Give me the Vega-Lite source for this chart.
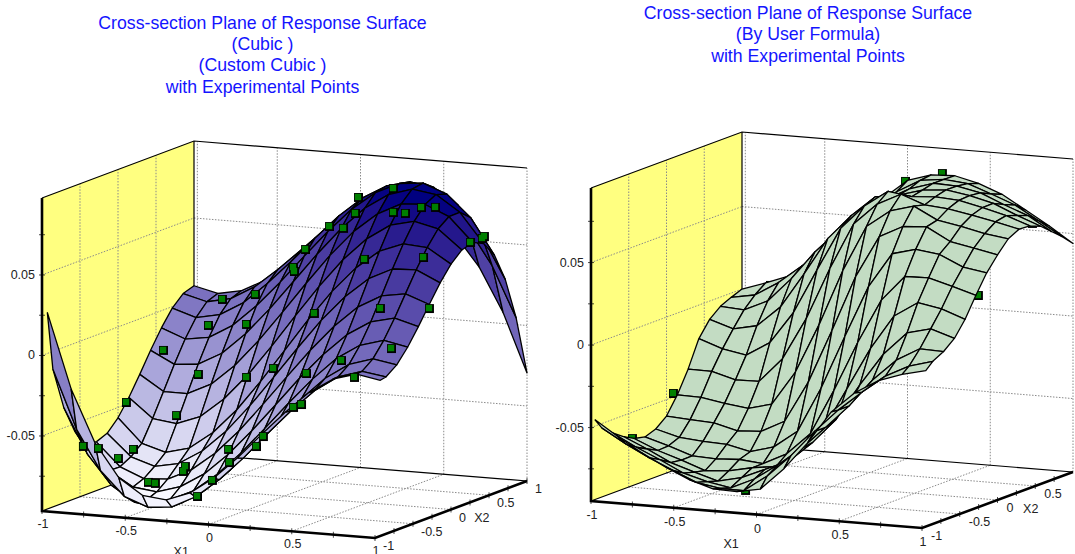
{"$schema":"https://vega.github.io/schema/vega-lite/v6.json","padding":{"left":0,"top":5,"right":0,"bottom":0},"background":"white","bounds":"flush","spacing":0,"config":{"view":{"stroke":null},"concat":{"spacing":0},"title":{"font":"Liberation Sans","fontSize":17.7,"fontWeight":"normal","color":"#1414ff","lineHeight":21.3},"text":{"font":"Liberation Sans"}},
"datasets":{
"leftSurface":[
{"X1":-1,"X2":1,"Z":0.0079},{"X1":-0.857,"X2":1,"Z":0.0043},{"X1":-0.714,"X2":1,"Z":0.0073},{"X1":-0.571,"X2":1,"Z":0.015},{"X1":-0.429,"X2":1,"Z":0.0259},{"X1":-0.286,"X2":1,"Z":0.0378},{"X1":-0.143,"X2":1,"Z":0.0494},{"X1":0,"X2":1,"Z":0.0591},{"X1":0.143,"X2":1,"Z":0.0654},{"X1":0.286,"X2":1,"Z":0.0671},{"X1":0.429,"X2":1,"Z":0.0629},{"X1":0.571,"X2":1,"Z":0.0523},{"X1":0.714,"X2":1,"Z":0.0337},{"X1":0.857,"X2":1,"Z":0.0067},{"X1":1,"X2":1,"Z":-0.0295},
{"X1":-1,"X2":0.857,"Z":0.0056},{"X1":-0.857,"X2":0.857,"Z":0.0017},{"X1":-0.714,"X2":0.857,"Z":0.0048},{"X1":-0.571,"X2":0.857,"Z":0.0133},{"X1":-0.429,"X2":0.857,"Z":0.0255},{"X1":-0.286,"X2":0.857,"Z":0.0391},{"X1":-0.143,"X2":0.857,"Z":0.053},{"X1":0,"X2":0.857,"Z":0.0655},{"X1":0.143,"X2":0.857,"Z":0.0751},{"X1":0.286,"X2":0.857,"Z":0.0805},{"X1":0.429,"X2":0.857,"Z":0.0803},{"X1":0.571,"X2":0.857,"Z":0.0742},{"X1":0.714,"X2":0.857,"Z":0.0603},{"X1":0.857,"X2":0.857,"Z":0.0383},{"X1":1,"X2":0.857,"Z":0.0073},
{"X1":-1,"X2":0.714,"Z":-0.0009},{"X1":-0.857,"X2":0.714,"Z":-0.0056},{"X1":-0.714,"X2":0.714,"Z":-0.0026},{"X1":-0.571,"X2":0.714,"Z":0.0061},{"X1":-0.429,"X2":0.714,"Z":0.0191},{"X1":-0.286,"X2":0.714,"Z":0.034},{"X1":-0.143,"X2":0.714,"Z":0.0497},{"X1":0,"X2":0.714,"Z":0.0647},{"X1":0.143,"X2":0.714,"Z":0.0771},{"X1":0.286,"X2":0.714,"Z":0.0857},{"X1":0.429,"X2":0.714,"Z":0.0894},{"X1":0.571,"X2":0.714,"Z":0.0872},{"X1":0.714,"X2":0.714,"Z":0.0776},{"X1":0.857,"X2":0.714,"Z":0.0602},{"X1":1,"X2":0.714,"Z":0.0337},
{"X1":-1,"X2":0.571,"Z":-0.0107},{"X1":-0.857,"X2":0.571,"Z":-0.0164},{"X1":-0.714,"X2":0.571,"Z":-0.0142},{"X1":-0.571,"X2":0.571,"Z":-0.0055},{"X1":-0.429,"X2":0.571,"Z":0.0079},{"X1":-0.286,"X2":0.571,"Z":0.0237},{"X1":-0.143,"X2":0.571,"Z":0.0409},{"X1":0,"X2":0.571,"Z":0.0576},{"X1":0.143,"X2":0.571,"Z":0.0726},{"X1":0.286,"X2":0.571,"Z":0.0841},{"X1":0.429,"X2":0.571,"Z":0.091},{"X1":0.571,"X2":0.571,"Z":0.0924},{"X1":0.714,"X2":0.571,"Z":0.0868},{"X1":0.857,"X2":0.571,"Z":0.0734},{"X1":1,"X2":0.571,"Z":0.0513},
{"X1":-1,"X2":0.429,"Z":-0.0221},{"X1":-0.857,"X2":0.429,"Z":-0.0296},{"X1":-0.714,"X2":0.429,"Z":-0.0283},{"X1":-0.571,"X2":0.429,"Z":-0.0203},{"X1":-0.429,"X2":0.429,"Z":-0.007},{"X1":-0.286,"X2":0.429,"Z":0.0095},{"X1":-0.143,"X2":0.429,"Z":0.0277},{"X1":0,"X2":0.429,"Z":0.046},{"X1":0.143,"X2":0.429,"Z":0.0628},{"X1":0.286,"X2":0.429,"Z":0.0769},{"X1":0.429,"X2":0.429,"Z":0.0866},{"X1":0.571,"X2":0.429,"Z":0.0912},{"X1":0.714,"X2":0.429,"Z":0.089},{"X1":0.857,"X2":0.429,"Z":0.0792},{"X1":1,"X2":0.429,"Z":0.061},
{"X1":-1,"X2":0.286,"Z":-0.0345},{"X1":-0.857,"X2":0.286,"Z":-0.044},{"X1":-0.714,"X2":0.286,"Z":-0.0441},{"X1":-0.571,"X2":0.286,"Z":-0.037},{"X1":-0.429,"X2":0.286,"Z":-0.0242},{"X1":-0.286,"X2":0.286,"Z":-0.0076},{"X1":-0.143,"X2":0.286,"Z":0.0112},{"X1":0,"X2":0.286,"Z":0.0305},{"X1":0.143,"X2":0.286,"Z":0.049},{"X1":0.286,"X2":0.286,"Z":0.0651},{"X1":0.429,"X2":0.286,"Z":0.0772},{"X1":0.571,"X2":0.286,"Z":0.0846},{"X1":0.714,"X2":0.286,"Z":0.0854},{"X1":0.857,"X2":0.286,"Z":0.079},{"X1":1,"X2":0.286,"Z":0.0642},
{"X1":-1,"X2":0.143,"Z":-0.0463},{"X1":-0.857,"X2":0.143,"Z":-0.0582},{"X1":-0.714,"X2":0.143,"Z":-0.0602},{"X1":-0.571,"X2":0.143,"Z":-0.0546},{"X1":-0.429,"X2":0.143,"Z":-0.0425},{"X1":-0.286,"X2":0.143,"Z":-0.0264},{"X1":-0.143,"X2":0.143,"Z":-0.0074},{"X1":0,"X2":0.143,"Z":0.0127},{"X1":0.143,"X2":0.143,"Z":0.0323},{"X1":0.286,"X2":0.143,"Z":0.05},{"X1":0.429,"X2":0.143,"Z":0.0642},{"X1":0.571,"X2":0.143,"Z":0.0739},{"X1":0.714,"X2":0.143,"Z":0.0774},{"X1":0.857,"X2":0.143,"Z":0.0739},{"X1":1,"X2":0.143,"Z":0.0621},
{"X1":-1,"X2":0,"Z":-0.0564},{"X1":-0.857,"X2":0,"Z":-0.0711},{"X1":-0.714,"X2":0,"Z":-0.0755},{"X1":-0.571,"X2":0,"Z":-0.0716},{"X1":-0.429,"X2":0,"Z":-0.0608},{"X1":-0.286,"X2":0,"Z":-0.0454},{"X1":-0.143,"X2":0,"Z":-0.0266},{"X1":0,"X2":0,"Z":-0.0063},{"X1":0.143,"X2":0,"Z":0.0141},{"X1":0.286,"X2":0,"Z":0.0329},{"X1":0.429,"X2":0,"Z":0.0487},{"X1":0.571,"X2":0,"Z":0.0603},{"X1":0.714,"X2":0,"Z":0.066},{"X1":0.857,"X2":0,"Z":0.0649},{"X1":1,"X2":0,"Z":0.0558},
{"X1":-1,"X2":-0.143,"Z":-0.0635},{"X1":-0.857,"X2":-0.143,"Z":-0.0769},{"X1":-0.714,"X2":-0.143,"Z":-0.0816},{"X1":-0.571,"X2":-0.143,"Z":-0.0787},{"X1":-0.429,"X2":-0.143,"Z":-0.0697},{"X1":-0.286,"X2":-0.143,"Z":-0.0563},{"X1":-0.143,"X2":-0.143,"Z":-0.0393},{"X1":0,"X2":-0.143,"Z":-0.0204},{"X1":0.143,"X2":-0.143,"Z":-0.0011},{"X1":0.286,"X2":-0.143,"Z":0.0174},{"X1":0.429,"X2":-0.143,"Z":0.0333},{"X1":0.571,"X2":-0.143,"Z":0.0457},{"X1":0.714,"X2":-0.143,"Z":0.0529},{"X1":0.857,"X2":-0.143,"Z":0.0536},{"X1":1,"X2":-0.143,"Z":0.0467},
{"X1":-1,"X2":-0.286,"Z":-0.0663},{"X1":-0.857,"X2":-0.286,"Z":-0.0806},{"X1":-0.714,"X2":-0.286,"Z":-0.0867},{"X1":-0.571,"X2":-0.286,"Z":-0.0858},{"X1":-0.429,"X2":-0.286,"Z":-0.0789},{"X1":-0.286,"X2":-0.286,"Z":-0.0674},{"X1":-0.143,"X2":-0.286,"Z":-0.0524},{"X1":0,"X2":-0.286,"Z":-0.0348},{"X1":0.143,"X2":-0.286,"Z":-0.0165},{"X1":0.286,"X2":-0.286,"Z":0.0014},{"X1":0.429,"X2":-0.286,"Z":0.0175},{"X1":0.571,"X2":-0.286,"Z":0.0306},{"X1":0.714,"X2":-0.286,"Z":0.0388},{"X1":0.857,"X2":-0.286,"Z":0.0412},{"X1":1,"X2":-0.286,"Z":0.0358},
{"X1":-1,"X2":-0.429,"Z":-0.0637},{"X1":-0.857,"X2":-0.429,"Z":-0.0805},{"X1":-0.714,"X2":-0.429,"Z":-0.0894},{"X1":-0.571,"X2":-0.429,"Z":-0.0912},{"X1":-0.429,"X2":-0.429,"Z":-0.0868},{"X1":-0.286,"X2":-0.429,"Z":-0.0777},{"X1":-0.143,"X2":-0.429,"Z":-0.0644},{"X1":0,"X2":-0.429,"Z":-0.0485},{"X1":0.143,"X2":-0.429,"Z":-0.0311},{"X1":0.286,"X2":-0.429,"Z":-0.0135},{"X1":0.429,"X2":-0.429,"Z":0.0025},{"X1":0.571,"X2":-0.429,"Z":0.016},{"X1":0.714,"X2":-0.429,"Z":0.0251},{"X1":0.857,"X2":-0.429,"Z":0.0286},{"X1":1,"X2":-0.429,"Z":0.0246},
{"X1":-1,"X2":-0.571,"Z":-0.0545},{"X1":-0.857,"X2":-0.571,"Z":-0.0759},{"X1":-0.714,"X2":-0.571,"Z":-0.0887},{"X1":-0.571,"X2":-0.571,"Z":-0.094},{"X1":-0.429,"X2":-0.571,"Z":-0.0925},{"X1":-0.286,"X2":-0.571,"Z":-0.0857},{"X1":-0.143,"X2":-0.571,"Z":-0.0742},{"X1":0,"X2":-0.571,"Z":-0.0597},{"X1":0.143,"X2":-0.571,"Z":-0.0433},{"X1":0.286,"X2":-0.571,"Z":-0.0263},{"X1":0.429,"X2":-0.571,"Z":-0.0103},{"X1":0.571,"X2":-0.571,"Z":0.0036},{"X1":0.714,"X2":-0.571,"Z":0.0131},{"X1":0.857,"X2":-0.571,"Z":0.0174},{"X1":1,"X2":-0.571,"Z":0.0143},
{"X1":-1,"X2":-0.714,"Z":-0.0373},{"X1":-0.857,"X2":-0.714,"Z":-0.0652},{"X1":-0.714,"X2":-0.714,"Z":-0.0832},{"X1":-0.571,"X2":-0.714,"Z":-0.0927},{"X1":-0.429,"X2":-0.714,"Z":-0.0946},{"X1":-0.286,"X2":-0.714,"Z":-0.0904},{"X1":-0.143,"X2":-0.714,"Z":-0.0809},{"X1":0,"X2":-0.714,"Z":-0.0678},{"X1":0.143,"X2":-0.714,"Z":-0.0524},{"X1":0.286,"X2":-0.714,"Z":-0.0356},{"X1":0.429,"X2":-0.714,"Z":-0.0199},{"X1":0.571,"X2":-0.714,"Z":-0.006},{"X1":0.714,"X2":-0.714,"Z":0.0038},{"X1":0.857,"X2":-0.714,"Z":0.0084},{"X1":1,"X2":-0.714,"Z":0.0059},
{"X1":-1,"X2":-0.857,"Z":-0.011},{"X1":-0.857,"X2":-0.857,"Z":-0.0472},{"X1":-0.714,"X2":-0.857,"Z":-0.0716},{"X1":-0.571,"X2":-0.857,"Z":-0.0864},{"X1":-0.429,"X2":-0.857,"Z":-0.0919},{"X1":-0.286,"X2":-0.857,"Z":-0.0906},{"X1":-0.143,"X2":-0.857,"Z":-0.0831},{"X1":0,"X2":-0.857,"Z":-0.0712},{"X1":0.143,"X2":-0.857,"Z":-0.0567},{"X1":0.286,"X2":-0.857,"Z":-0.0405},{"X1":0.429,"X2":-0.857,"Z":-0.025},{"X1":0.571,"X2":-0.857,"Z":-0.0112},{"X1":0.714,"X2":-0.857,"Z":-0.0014},{"X1":0.857,"X2":-0.857,"Z":0.0032},{"X1":1,"X2":-0.857,"Z":0.0009},
{"X1":-1,"X2":-0.93,"Z":0.0255},{"X1":-0.857,"X2":-0.93,"Z":-0.0208},{"X1":-0.714,"X2":-0.93,"Z":-0.053},{"X1":-0.571,"X2":-0.93,"Z":-0.0735},{"X1":-0.429,"X2":-0.93,"Z":-0.0833},{"X1":-0.286,"X2":-0.93,"Z":-0.085},{"X1":-0.143,"X2":-0.93,"Z":-0.0794},{"X1":0,"X2":-0.93,"Z":-0.069},{"X1":0.143,"X2":-0.93,"Z":-0.0552},{"X1":0.286,"X2":-0.93,"Z":-0.0396},{"X1":0.429,"X2":-0.93,"Z":-0.0245},{"X1":0.571,"X2":-0.93,"Z":-0.0111},{"X1":0.714,"X2":-0.93,"Z":-0.0016},{"X1":0.857,"X2":-0.93,"Z":0.0028},{"X1":1,"X2":-0.93,"Z":0.0001}
],
"rightSurface":[
{"X1":-1,"X2":1,"Z":0},{"X1":-0.857,"X2":1,"Z":0.0049},{"X1":-0.714,"X2":1,"Z":0.0104},{"X1":-0.571,"X2":1,"Z":0.0189},{"X1":-0.429,"X2":1,"Z":0.0317},{"X1":-0.286,"X2":1,"Z":0.0476},{"X1":-0.143,"X2":1,"Z":0.0624},{"X1":0,"X2":1,"Z":0.074},{"X1":0.143,"X2":1,"Z":0.0786},{"X1":0.286,"X2":1,"Z":0.0792},{"X1":0.429,"X2":1,"Z":0.0757},{"X1":0.571,"X2":1,"Z":0.0703},{"X1":0.714,"X2":1,"Z":0.0619},{"X1":0.857,"X2":1,"Z":0.0534},{"X1":1,"X2":1,"Z":0.044},
{"X1":-1,"X2":0.857,"Z":-0.0026},{"X1":-0.857,"X2":0.857,"Z":0},{"X1":-0.714,"X2":0.857,"Z":0.0087},{"X1":-0.571,"X2":0.857,"Z":0.0201},{"X1":-0.429,"X2":0.857,"Z":0.032},{"X1":-0.286,"X2":0.857,"Z":0.0462},{"X1":-0.143,"X2":0.857,"Z":0.0581},{"X1":0,"X2":0.857,"Z":0.0696},{"X1":0.143,"X2":0.857,"Z":0.0777},{"X1":0.286,"X2":0.857,"Z":0.0794},{"X1":0.429,"X2":0.857,"Z":0.078},{"X1":0.571,"X2":0.857,"Z":0.0729},{"X1":0.714,"X2":0.857,"Z":0.0674},{"X1":0.857,"X2":0.857,"Z":0.059},{"X1":1,"X2":0.857,"Z":0.0506},
{"X1":-1,"X2":0.714,"Z":-0.0056},{"X1":-0.857,"X2":0.714,"Z":-0.0066},{"X1":-0.714,"X2":0.714,"Z":0},{"X1":-0.571,"X2":0.714,"Z":0.0147},{"X1":-0.429,"X2":0.714,"Z":0.032},{"X1":-0.286,"X2":0.714,"Z":0.0462},{"X1":-0.143,"X2":0.714,"Z":0.06},{"X1":0,"X2":0.714,"Z":0.0672},{"X1":0.143,"X2":0.714,"Z":0.075},{"X1":0.286,"X2":0.714,"Z":0.0795},{"X1":0.429,"X2":0.714,"Z":0.0789},{"X1":0.571,"X2":0.714,"Z":0.076},{"X1":0.714,"X2":0.714,"Z":0.07},{"X1":0.857,"X2":0.714,"Z":0.0646},{"X1":1,"X2":0.714,"Z":0.0561},
{"X1":-1,"X2":0.571,"Z":-0.0111},{"X1":-0.857,"X2":0.571,"Z":-0.0157},{"X1":-0.714,"X2":0.571,"Z":-0.0126},{"X1":-0.571,"X2":0.571,"Z":0},{"X1":-0.429,"X2":0.571,"Z":0.0212},{"X1":-0.286,"X2":0.571,"Z":0.0437},{"X1":-0.143,"X2":0.571,"Z":0.0589},{"X1":0,"X2":0.571,"Z":0.0713},{"X1":0.143,"X2":0.571,"Z":0.0736},{"X1":0.286,"X2":0.571,"Z":0.0778},{"X1":0.429,"X2":0.571,"Z":0.0791},{"X1":0.571,"X2":0.571,"Z":0.0768},{"X1":0.714,"X2":0.571,"Z":0.0732},{"X1":0.857,"X2":0.571,"Z":0.0671},{"X1":1,"X2":0.571,"Z":0.0617},
{"X1":-1,"X2":0.429,"Z":-0.0203},{"X1":-0.857,"X2":0.429,"Z":-0.0254},{"X1":-0.714,"X2":0.429,"Z":-0.028},{"X1":-0.571,"X2":0.429,"Z":-0.0193},{"X1":-0.429,"X2":0.429,"Z":0},{"X1":-0.286,"X2":0.429,"Z":0.0272},{"X1":-0.143,"X2":0.429,"Z":0.0535},{"X1":0,"X2":0.429,"Z":0.0682},{"X1":0.143,"X2":0.429,"Z":0.0783},{"X1":0.286,"X2":0.429,"Z":0.0762},{"X1":0.429,"X2":0.429,"Z":0.0773},{"X1":0.571,"X2":0.429,"Z":0.0763},{"X1":0.714,"X2":0.429,"Z":0.0731},{"X1":0.857,"X2":0.429,"Z":0.0694},{"X1":1,"X2":0.429,"Z":0.0643},
{"X1":-1,"X2":0.286,"Z":-0.0364},{"X1":-0.857,"X2":0.286,"Z":-0.0366},{"X1":-0.714,"X2":0.286,"Z":-0.0406},{"X1":-0.571,"X2":0.286,"Z":-0.0403},{"X1":-0.429,"X2":0.286,"Z":-0.0254},{"X1":-0.286,"X2":0.286,"Z":0},{"X1":-0.143,"X2":0.286,"Z":0.0316},{"X1":0,"X2":0.286,"Z":0.0597},{"X1":0.143,"X2":0.286,"Z":0.073},{"X1":0.286,"X2":0.286,"Z":0.0801},{"X1":0.429,"X2":0.286,"Z":0.0748},{"X1":0.571,"X2":0.286,"Z":0.0736},{"X1":0.714,"X2":0.286,"Z":0.0709},{"X1":0.857,"X2":0.286,"Z":0.068},{"X1":1,"X2":0.286,"Z":0.0648},
{"X1":-1,"X2":0.143,"Z":-0.0496},{"X1":-0.857,"X2":0.143,"Z":-0.0499},{"X1":-0.714,"X2":0.143,"Z":-0.0524},{"X1":-0.571,"X2":0.143,"Z":-0.0543},{"X1":-0.429,"X2":0.143,"Z":-0.0505},{"X1":-0.286,"X2":0.143,"Z":-0.0299},{"X1":-0.143,"X2":0.143,"Z":0},{"X1":0,"X2":0.143,"Z":0.0339},{"X1":0.143,"X2":0.143,"Z":0.0618},{"X1":0.286,"X2":0.143,"Z":0.0724},{"X1":0.429,"X2":0.143,"Z":0.0765},{"X1":0.571,"X2":0.143,"Z":0.0692},{"X1":0.714,"X2":0.143,"Z":0.0666},{"X1":0.857,"X2":0.143,"Z":0.0633},{"X1":1,"X2":0.143,"Z":0.0614},
{"X1":-1,"X2":0,"Z":-0.06},{"X1":-0.857,"X2":0,"Z":-0.061},{"X1":-0.714,"X2":0,"Z":-0.0618},{"X1":-0.571,"X2":0,"Z":-0.0655},{"X1":-0.429,"X2":0,"Z":-0.0646},{"X1":-0.286,"X2":0,"Z":-0.0573},{"X1":-0.143,"X2":0,"Z":-0.0324},{"X1":0,"X2":0,"Z":0},{"X1":0.143,"X2":0,"Z":0.0339},{"X1":0.286,"X2":0,"Z":0.0593},{"X1":0.429,"X2":0,"Z":0.0666},{"X1":0.571,"X2":0,"Z":0.0675},{"X1":0.714,"X2":0,"Z":0.0598},{"X1":0.857,"X2":0,"Z":0.057},{"X1":1,"X2":0,"Z":0.054},
{"X1":-1,"X2":-0.143,"Z":-0.0654},{"X1":-0.857,"X2":-0.143,"Z":-0.0693},{"X1":-0.714,"X2":-0.143,"Z":-0.0706},{"X1":-0.571,"X2":-0.143,"Z":-0.0712},{"X1":-0.429,"X2":-0.143,"Z":-0.0745},{"X1":-0.286,"X2":-0.143,"Z":-0.0704},{"X1":-0.143,"X2":-0.143,"Z":-0.0598},{"X1":0,"X2":-0.143,"Z":-0.0324},{"X1":0.143,"X2":-0.143,"Z":0},{"X1":0.286,"X2":-0.143,"Z":0.0314},{"X1":0.429,"X2":-0.143,"Z":0.0525},{"X1":0.571,"X2":-0.143,"Z":0.0563},{"X1":0.714,"X2":-0.143,"Z":0.0544},{"X1":0.857,"X2":-0.143,"Z":0.0479},{"X1":1,"X2":-0.143,"Z":0.0456},
{"X1":-1,"X2":-0.286,"Z":-0.0678},{"X1":-0.857,"X2":-0.286,"Z":-0.072},{"X1":-0.714,"X2":-0.286,"Z":-0.0769},{"X1":-0.571,"X2":-0.286,"Z":-0.0776},{"X1":-0.429,"X2":-0.286,"Z":-0.0768},{"X1":-0.286,"X2":-0.286,"Z":-0.0781},{"X1":-0.143,"X2":-0.286,"Z":-0.071},{"X1":0,"X2":-0.286,"Z":-0.0577},{"X1":0.143,"X2":-0.286,"Z":-0.0301},{"X1":0.286,"X2":-0.286,"Z":0},{"X1":0.429,"X2":-0.286,"Z":0.0268},{"X1":0.571,"X2":-0.286,"Z":0.0423},{"X1":0.714,"X2":-0.286,"Z":0.0426},{"X1":0.857,"X2":-0.286,"Z":0.0386},{"X1":1,"X2":-0.286,"Z":0.0344},
{"X1":-1,"X2":-0.429,"Z":-0.0663},{"X1":-0.857,"X2":-0.429,"Z":-0.0724},{"X1":-0.714,"X2":-0.429,"Z":-0.0771},{"X1":-0.571,"X2":-0.429,"Z":-0.0823},{"X1":-0.429,"X2":-0.429,"Z":-0.0813},{"X1":-0.286,"X2":-0.429,"Z":-0.0782},{"X1":-0.143,"X2":-0.429,"Z":-0.0763},{"X1":0,"X2":-0.429,"Z":-0.0662},{"X1":0.143,"X2":-0.429,"Z":-0.0515},{"X1":0.286,"X2":-0.429,"Z":-0.0257},{"X1":0.429,"X2":-0.429,"Z":0},{"X1":0.571,"X2":-0.429,"Z":0.0208},{"X1":0.714,"X2":-0.429,"Z":0.03},{"X1":0.857,"X2":-0.429,"Z":0.0274},{"X1":1,"X2":-0.429,"Z":0.0223},
{"X1":-1,"X2":-0.571,"Z":-0.0627},{"X1":-0.857,"X2":-0.571,"Z":-0.0691},{"X1":-0.714,"X2":-0.571,"Z":-0.0762},{"X1":-0.571,"X2":-0.571,"Z":-0.0808},{"X1":-0.429,"X2":-0.571,"Z":-0.0851},{"X1":-0.286,"X2":-0.571,"Z":-0.0818},{"X1":-0.143,"X2":-0.571,"Z":-0.0756},{"X1":0,"X2":-0.571,"Z":-0.0693},{"X1":0.143,"X2":-0.571,"Z":-0.0569},{"X1":0.286,"X2":-0.571,"Z":-0.0417},{"X1":0.429,"X2":-0.571,"Z":-0.0197},{"X1":0.571,"X2":-0.571,"Z":0},{"X1":0.714,"X2":-0.571,"Z":0.0141},{"X1":0.857,"X2":-0.571,"Z":0.0177},{"X1":1,"X2":-0.571,"Z":0.0131},
{"X1":-1,"X2":-0.714,"Z":-0.0581},{"X1":-0.857,"X2":-0.714,"Z":-0.0656},{"X1":-0.714,"X2":-0.714,"Z":-0.072},{"X1":-0.571,"X2":-0.714,"Z":-0.079},{"X1":-0.429,"X2":-0.714,"Z":-0.0829},{"X1":-0.286,"X2":-0.714,"Z":-0.0855},{"X1":-0.143,"X2":-0.714,"Z":-0.079},{"X1":0,"X2":-0.714,"Z":-0.0692},{"X1":0.143,"X2":-0.714,"Z":-0.058},{"X1":0.286,"X2":-0.714,"Z":-0.0442},{"X1":0.429,"X2":-0.714,"Z":-0.03},{"X1":0.571,"X2":-0.714,"Z":-0.0132},{"X1":0.714,"X2":-0.714,"Z":0},{"X1":0.857,"X2":-0.714,"Z":0.0081},{"X1":1,"X2":-0.714,"Z":0.0076},
{"X1":-1,"X2":-0.857,"Z":-0.0526},{"X1":-0.857,"X2":-0.857,"Z":-0.061},{"X1":-0.714,"X2":-0.857,"Z":-0.0684},{"X1":-0.571,"X2":-0.857,"Z":-0.0749},{"X1":-0.429,"X2":-0.857,"Z":-0.081},{"X1":-0.286,"X2":-0.857,"Z":-0.0834},{"X1":-0.143,"X2":-0.857,"Z":-0.0837},{"X1":0,"X2":-0.857,"Z":-0.0736},{"X1":0.143,"X2":-0.857,"Z":-0.0601},{"X1":0.286,"X2":-0.857,"Z":-0.0442},{"X1":0.429,"X2":-0.857,"Z":-0.03},{"X1":0.571,"X2":-0.857,"Z":-0.0181},{"X1":0.714,"X2":-0.857,"Z":-0.0072},{"X1":0.857,"X2":-0.857,"Z":0},{"X1":1,"X2":-0.857,"Z":0.0041},
{"X1":-1,"X2":-0.95,"Z":-0.046},{"X1":-0.857,"X2":-0.95,"Z":-0.0554},{"X1":-0.714,"X2":-0.95,"Z":-0.0639},{"X1":-0.571,"X2":-0.95,"Z":-0.0713},{"X1":-0.429,"X2":-0.95,"Z":-0.0777},{"X1":-0.286,"X2":-0.95,"Z":-0.0822},{"X1":-0.143,"X2":-0.95,"Z":-0.0826},{"X1":0,"X2":-0.95,"Z":-0.08},{"X1":0.143,"X2":-0.95,"Z":-0.0664},{"X1":0.286,"X2":-0.95,"Z":-0.0496},{"X1":0.429,"X2":-0.95,"Z":-0.0297},{"X1":0.571,"X2":-0.95,"Z":-0.0169},{"X1":0.714,"X2":-0.95,"Z":-0.0084},{"X1":0.857,"X2":-0.95,"Z":-0.0034},{"X1":1,"X2":-0.95,"Z":0}
],
"left":[
{"kind":"wall","line":0,"s":0,"X1":-1,"X2":-1,"Z":-0.0966},{"kind":"wall","line":0,"s":1,"X1":-1,"X2":1,"Z":-0.0966},{"kind":"wall","line":0,"s":2,"X1":-1,"X2":1,"Z":0.0978},{"kind":"wall","line":0,"s":3,"X1":-1,"X2":-1,"Z":0.0978},
{"kind":"dot","line":1,"s":0,"X1":-0.5,"X2":-1,"Z":-0.0966},{"kind":"dot","line":1,"s":1,"X1":-0.5,"X2":1,"Z":-0.0966},{"kind":"dot","line":2,"s":0,"X1":0,"X2":-1,"Z":-0.0966},{"kind":"dot","line":2,"s":1,"X1":0,"X2":1,"Z":-0.0966},{"kind":"dot","line":3,"s":0,"X1":0.5,"X2":-1,"Z":-0.0966},{"kind":"dot","line":3,"s":1,"X1":0.5,"X2":1,"Z":-0.0966},
{"kind":"dot","line":4,"s":0,"X1":-1,"X2":-0.5,"Z":-0.0966},{"kind":"dot","line":4,"s":1,"X1":1,"X2":-0.5,"Z":-0.0966},{"kind":"dot","line":5,"s":0,"X1":-1,"X2":0,"Z":-0.0966},{"kind":"dot","line":5,"s":1,"X1":1,"X2":0,"Z":-0.0966},{"kind":"dot","line":6,"s":0,"X1":-1,"X2":0.5,"Z":-0.0966},{"kind":"dot","line":6,"s":1,"X1":1,"X2":0.5,"Z":-0.0966},
{"kind":"dot","line":7,"s":0,"X1":-0.98,"X2":1,"Z":-0.0966},{"kind":"dot","line":7,"s":1,"X1":-0.98,"X2":1,"Z":0.0978},{"kind":"dot","line":8,"s":0,"X1":-0.5,"X2":1,"Z":-0.0966},{"kind":"dot","line":8,"s":1,"X1":-0.5,"X2":1,"Z":0.0978},{"kind":"dot","line":9,"s":0,"X1":0,"X2":1,"Z":-0.0966},{"kind":"dot","line":9,"s":1,"X1":0,"X2":1,"Z":0.0978},{"kind":"dot","line":10,"s":0,"X1":0.5,"X2":1,"Z":-0.0966},{"kind":"dot","line":10,"s":1,"X1":0.5,"X2":1,"Z":0.0978},{"kind":"dot","line":11,"s":0,"X1":1,"X2":1,"Z":-0.0966},{"kind":"dot","line":11,"s":1,"X1":1,"X2":1,"Z":0.0978},
{"kind":"dot","line":12,"s":0,"X1":-1,"X2":1,"Z":-0.05},{"kind":"dot","line":12,"s":1,"X1":1,"X2":1,"Z":-0.05},{"kind":"dot","line":13,"s":0,"X1":-1,"X2":1,"Z":0},{"kind":"dot","line":13,"s":1,"X1":1,"X2":1,"Z":0},{"kind":"dot","line":14,"s":0,"X1":-1,"X2":1,"Z":0.05},{"kind":"dot","line":14,"s":1,"X1":1,"X2":1,"Z":0.05},
{"kind":"dot","line":15,"s":0,"X1":-1,"X2":-0.5,"Z":-0.0966},{"kind":"dot","line":15,"s":1,"X1":-1,"X2":-0.5,"Z":0.0978},{"kind":"dot","line":16,"s":0,"X1":-1,"X2":0,"Z":-0.0966},{"kind":"dot","line":16,"s":1,"X1":-1,"X2":0,"Z":0.0978},{"kind":"dot","line":17,"s":0,"X1":-1,"X2":0.5,"Z":-0.0966},{"kind":"dot","line":17,"s":1,"X1":-1,"X2":0.5,"Z":0.0978},
{"kind":"dot","line":18,"s":0,"X1":-1,"X2":-1,"Z":-0.05},{"kind":"dot","line":18,"s":1,"X1":-1,"X2":1,"Z":-0.05},{"kind":"dot","line":19,"s":0,"X1":-1,"X2":-1,"Z":0},{"kind":"dot","line":19,"s":1,"X1":-1,"X2":1,"Z":0},{"kind":"dot","line":20,"s":0,"X1":-1,"X2":-1,"Z":0.05},{"kind":"dot","line":20,"s":1,"X1":-1,"X2":1,"Z":0.05},
{"kind":"thin","line":21,"s":0,"X1":-1,"X2":-1,"Z":0.0978},{"kind":"thin","line":21,"s":1,"X1":-1,"X2":1,"Z":0.0978},{"kind":"thin","line":21,"s":2,"X1":1,"X2":1,"Z":0.0978},{"kind":"thin","line":22,"s":0,"X1":-1,"X2":-1,"Z":-0.0966},{"kind":"thin","line":22,"s":1,"X1":-1,"X2":1,"Z":-0.0966},{"kind":"thin","line":22,"s":2,"X1":1,"X2":1,"Z":-0.0966},{"kind":"thin","line":23,"s":0,"X1":-1,"X2":1,"Z":-0.0966},{"kind":"thin","line":23,"s":1,"X1":-1,"X2":1,"Z":0.0978},
{"kind":"thick","line":24,"s":0,"X1":-1,"X2":-1,"Z":0.0978},{"kind":"thick","line":24,"s":1,"X1":-1,"X2":-1,"Z":-0.0966},{"kind":"thick","line":24,"s":2,"X1":1,"X2":-1,"Z":-0.0966},{"kind":"thick","line":24,"s":3,"X1":1,"X2":1,"Z":-0.0966},
{"kind":"pt","X1":-0.8,"X2":-0.9,"Z":-0.0563},{"kind":"pt","X1":-0.755,"X2":-0.8,"Z":-0.059},{"kind":"pt","X1":-0.635,"X2":-0.8,"Z":-0.0642},{"kind":"pt","X1":-0.636,"X2":-0.6,"Z":-0.0621},{"kind":"pt","X1":-0.861,"X2":-0.2,"Z":-0.0419},{"kind":"pt","X1":-0.56,"X2":-0.2,"Z":-0.0475},{"kind":"pt","X1":-0.912,"X2":0.4,"Z":-0.0206},{"kind":"pt","X1":-0.611,"X2":0.2,"Z":-0.0295},{"kind":"pt","X1":-0.779,"X2":0.7,"Z":-0.0093},{"kind":"pt","X1":-0.832,"X2":1,"Z":0.0011},{"kind":"pt","X1":-0.505,"X2":0.6,"Z":-0.0046},{"kind":"pt","X1":-0.634,"X2":1,"Z":0.0058},{"kind":"pt","X1":-0.231,"X2":0,"Z":-0.0246},{"kind":"pt","X1":-0.069,"X2":0,"Z":-0.0177},{"kind":"pt","X1":-0.455,"X2":-0.8,"Z":-0.0775},{"kind":"pt","X1":-0.413,"X2":-0.8,"Z":-0.0778},{"kind":"pt","X1":-0.324,"X2":-0.6,"Z":-0.0701},{"kind":"pt","X1":-0.29,"X2":-0.7,"Z":-0.0711},{"kind":"pt","X1":-0.069,"X2":-1,"Z":-0.0795},{"kind":"pt","X1":-0.025,"X2":-0.9,"Z":-0.0709},{"kind":"pt","X1":-0.065,"X2":-0.6,"Z":-0.0573},{"kind":"pt","X1":0.032,"X2":-0.8,"Z":-0.0611},{"kind":"pt","X1":0.194,"X2":-0.8,"Z":-0.0498},{"kind":"pt","X1":0.19,"X2":-0.7,"Z":-0.0454},{"kind":"pt","X1":0.175,"X2":-0.1,"Z":-0.017},{"kind":"pt","X1":0.371,"X2":-0.7,"Z":-0.0258},{"kind":"pt","X1":0.419,"X2":-0.7,"Z":-0.0236},{"kind":"pt","X1":0.522,"X2":-0.4,"Z":-0.0007},{"kind":"pt","X1":0.737,"X2":-0.7,"Z":-0.0041},{"kind":"pt","X1":0.04,"X2":0.3,"Z":0.0121},{"kind":"pt","X1":-0.36,"X2":0.9,"Z":0.0267},{"kind":"pt","X1":-0.331,"X2":0.85,"Z":0.0253},{"kind":"pt","X1":-0.333,"X2":1,"Z":0.0363},{"kind":"pt","X1":-0.189,"X2":1,"Z":0.0518},{"kind":"pt","X1":-0.059,"X2":0.9,"Z":0.0535},{"kind":"pt","X1":-0.033,"X2":1,"Z":0.0612},{"kind":"pt","X1":-0.015,"X2":1,"Z":0.0713},{"kind":"pt","X1":0.341,"X2":0.3,"Z":0.0482},{"kind":"pt","X1":0.619,"X2":-0.1,"Z":0.0271},{"kind":"pt","X1":0.868,"X2":-0.5,"Z":0.0114},{"kind":"pt","X1":0.195,"X2":1,"Z":0.0786},{"kind":"pt","X1":0.332,"X2":0.7,"Z":0.0702},{"kind":"pt","X1":0.404,"X2":0.7,"Z":0.0702},{"kind":"pt","X1":0.455,"X2":0.8,"Z":0.0725},{"kind":"pt","X1":0.539,"X2":0.8,"Z":0.0733},{"kind":"pt","X1":0.741,"X2":0.2,"Z":0.0545},{"kind":"pt","X1":0.959,"X2":-0.2,"Z":0.0317},{"kind":"pt","X1":0.932,"X2":0.4,"Z":0.0619},{"kind":"pt","X1":0.912,"X2":0.6,"Z":0.0607},{"kind":"pt","X1":0.924,"X2":0.6,"Z":0.062},
{"kind":"tv","X1":-1,"X2":-1,"Z":-0.0966},{"kind":"tv","X1":-0.75,"X2":-1,"Z":-0.0966},{"kind":"tv","X1":-0.5,"X2":-1,"Z":-0.0966},{"kind":"tv","X1":-0.25,"X2":-1,"Z":-0.0966},{"kind":"tv","X1":0,"X2":-1,"Z":-0.0966},{"kind":"tv","X1":0.25,"X2":-1,"Z":-0.0966},{"kind":"tv","X1":0.5,"X2":-1,"Z":-0.0966},{"kind":"tv","X1":0.75,"X2":-1,"Z":-0.0966},{"kind":"tv","X1":1,"X2":-1,"Z":-0.0966},{"kind":"tv","X1":1,"X2":-0.75,"Z":-0.0966},{"kind":"tv","X1":1,"X2":-0.5,"Z":-0.0966},{"kind":"tv","X1":1,"X2":-0.25,"Z":-0.0966},{"kind":"tv","X1":1,"X2":0,"Z":-0.0966},{"kind":"tv","X1":1,"X2":0.25,"Z":-0.0966},{"kind":"tv","X1":1,"X2":0.5,"Z":-0.0966},{"kind":"tv","X1":1,"X2":0.75,"Z":-0.0966},{"kind":"tv","X1":1,"X2":1,"Z":-0.0966},
{"kind":"th","X1":-1,"X2":-1,"Z":-0.075},{"kind":"th","X1":-1,"X2":-1,"Z":-0.05},{"kind":"th","X1":-1,"X2":-1,"Z":-0.025},{"kind":"th","X1":-1,"X2":-1,"Z":0},{"kind":"th","X1":-1,"X2":-1,"Z":0.025},{"kind":"th","X1":-1,"X2":-1,"Z":0.05},{"kind":"th","X1":-1,"X2":-1,"Z":0.075},
{"kind":"lx","X1":-1,"X2":-1,"Z":-0.0966,"label":"-1"},{"kind":"lx","X1":-0.5,"X2":-1,"Z":-0.0966,"label":"-0.5"},{"kind":"lx","X1":0,"X2":-1,"Z":-0.0966,"label":"0"},{"kind":"lx","X1":0.5,"X2":-1,"Z":-0.0966,"label":"0.5"},{"kind":"lx","X1":1,"X2":-1,"Z":-0.0966,"label":"1"},{"kind":"lx","X1":-0.17,"X2":-1,"Z":-0.1072,"label":"X1"},
{"kind":"lw","X1":1,"X2":-1,"Z":-0.0966,"label":"-1"},{"kind":"lw","X1":1,"X2":-0.5,"Z":-0.0966,"label":"-0.5"},{"kind":"lw","X1":1,"X2":0,"Z":-0.0966,"label":"0"},{"kind":"lw","X1":1,"X2":0.5,"Z":-0.0966,"label":"0.5"},{"kind":"lw","X1":1,"X2":1,"Z":-0.0966,"label":"1"},{"kind":"lw","X1":1,"X2":0.2,"Z":-0.1003,"label":"X2"},
{"kind":"lz","X1":-1,"X2":-1,"Z":-0.05,"label":"-0.05"},{"kind":"lz","X1":-1,"X2":-1,"Z":0,"label":"0"},{"kind":"lz","X1":-1,"X2":-1,"Z":0.05,"label":"0.05"}
],
"right":[
{"kind":"wall","line":0,"s":0,"X1":-1,"X2":-1,"Z":-0.0945},{"kind":"wall","line":0,"s":1,"X1":-1,"X2":1,"Z":-0.0945},{"kind":"wall","line":0,"s":2,"X1":-1,"X2":1,"Z":0.0952},{"kind":"wall","line":0,"s":3,"X1":-1,"X2":-1,"Z":0.0952},
{"kind":"dot","line":1,"s":0,"X1":-0.5,"X2":-1,"Z":-0.0945},{"kind":"dot","line":1,"s":1,"X1":-0.5,"X2":1,"Z":-0.0945},{"kind":"dot","line":2,"s":0,"X1":0,"X2":-1,"Z":-0.0945},{"kind":"dot","line":2,"s":1,"X1":0,"X2":1,"Z":-0.0945},{"kind":"dot","line":3,"s":0,"X1":0.5,"X2":-1,"Z":-0.0945},{"kind":"dot","line":3,"s":1,"X1":0.5,"X2":1,"Z":-0.0945},
{"kind":"dot","line":4,"s":0,"X1":-1,"X2":-0.5,"Z":-0.0945},{"kind":"dot","line":4,"s":1,"X1":1,"X2":-0.5,"Z":-0.0945},{"kind":"dot","line":5,"s":0,"X1":-1,"X2":0,"Z":-0.0945},{"kind":"dot","line":5,"s":1,"X1":1,"X2":0,"Z":-0.0945},{"kind":"dot","line":6,"s":0,"X1":-1,"X2":0.5,"Z":-0.0945},{"kind":"dot","line":6,"s":1,"X1":1,"X2":0.5,"Z":-0.0945},
{"kind":"dot","line":7,"s":0,"X1":-0.98,"X2":1,"Z":-0.0945},{"kind":"dot","line":7,"s":1,"X1":-0.98,"X2":1,"Z":0.0952},{"kind":"dot","line":8,"s":0,"X1":-0.5,"X2":1,"Z":-0.0945},{"kind":"dot","line":8,"s":1,"X1":-0.5,"X2":1,"Z":0.0952},{"kind":"dot","line":9,"s":0,"X1":0,"X2":1,"Z":-0.0945},{"kind":"dot","line":9,"s":1,"X1":0,"X2":1,"Z":0.0952},{"kind":"dot","line":10,"s":0,"X1":0.5,"X2":1,"Z":-0.0945},{"kind":"dot","line":10,"s":1,"X1":0.5,"X2":1,"Z":0.0952},{"kind":"dot","line":11,"s":0,"X1":1,"X2":1,"Z":-0.0945},{"kind":"dot","line":11,"s":1,"X1":1,"X2":1,"Z":0.0952},
{"kind":"dot","line":12,"s":0,"X1":-1,"X2":1,"Z":-0.05},{"kind":"dot","line":12,"s":1,"X1":1,"X2":1,"Z":-0.05},{"kind":"dot","line":13,"s":0,"X1":-1,"X2":1,"Z":0},{"kind":"dot","line":13,"s":1,"X1":1,"X2":1,"Z":0},{"kind":"dot","line":14,"s":0,"X1":-1,"X2":1,"Z":0.05},{"kind":"dot","line":14,"s":1,"X1":1,"X2":1,"Z":0.05},
{"kind":"dot","line":15,"s":0,"X1":-1,"X2":-0.5,"Z":-0.0945},{"kind":"dot","line":15,"s":1,"X1":-1,"X2":-0.5,"Z":0.0952},{"kind":"dot","line":16,"s":0,"X1":-1,"X2":0,"Z":-0.0945},{"kind":"dot","line":16,"s":1,"X1":-1,"X2":0,"Z":0.0952},{"kind":"dot","line":17,"s":0,"X1":-1,"X2":0.5,"Z":-0.0945},{"kind":"dot","line":17,"s":1,"X1":-1,"X2":0.5,"Z":0.0952},
{"kind":"dot","line":18,"s":0,"X1":-1,"X2":-1,"Z":-0.05},{"kind":"dot","line":18,"s":1,"X1":-1,"X2":1,"Z":-0.05},{"kind":"dot","line":19,"s":0,"X1":-1,"X2":-1,"Z":0},{"kind":"dot","line":19,"s":1,"X1":-1,"X2":1,"Z":0},{"kind":"dot","line":20,"s":0,"X1":-1,"X2":-1,"Z":0.05},{"kind":"dot","line":20,"s":1,"X1":-1,"X2":1,"Z":0.05},
{"kind":"thin","line":21,"s":0,"X1":-1,"X2":-1,"Z":0.0952},{"kind":"thin","line":21,"s":1,"X1":-1,"X2":1,"Z":0.0952},{"kind":"thin","line":21,"s":2,"X1":1,"X2":1,"Z":0.0952},{"kind":"thin","line":22,"s":0,"X1":-1,"X2":-1,"Z":-0.0945},{"kind":"thin","line":22,"s":1,"X1":-1,"X2":1,"Z":-0.0945},{"kind":"thin","line":22,"s":2,"X1":1,"X2":1,"Z":-0.0945},{"kind":"thin","line":23,"s":0,"X1":-1,"X2":1,"Z":-0.0945},{"kind":"thin","line":23,"s":1,"X1":-1,"X2":1,"Z":0.0952},
{"kind":"thick","line":24,"s":0,"X1":-1,"X2":-1,"Z":0.0952},{"kind":"thick","line":24,"s":1,"X1":-1,"X2":-1,"Z":-0.0945},{"kind":"thick","line":24,"s":2,"X1":1,"X2":-1,"Z":-0.0945},{"kind":"thick","line":24,"s":3,"X1":1,"X2":1,"Z":-0.0945},
{"kind":"pt","X1":-0.961,"X2":0,"Z":-0.0457},{"kind":"pt","X1":-0.798,"X2":-0.9,"Z":-0.0564},{"kind":"pt","X1":-0.069,"X2":-1,"Z":-0.0802},{"kind":"pt","X1":-0.417,"X2":-0.9,"Z":-0.0763},{"kind":"pt","X1":-0.831,"X2":1,"Z":0.0039},{"kind":"pt","X1":0.208,"X2":1,"Z":0.0802},{"kind":"pt","X1":0.462,"X2":1,"Z":0.0702},{"kind":"pt","X1":0.752,"X2":1,"Z":0.0544},{"kind":"pt","X1":0.973,"X2":-0.2,"Z":0.0329},{"kind":"pt","X1":-0.335,"X2":1,"Z":0.0376},{"kind":"pt","X1":-0.015,"X2":1,"Z":0.0736},{"kind":"pt","X1":0.519,"X2":-0.9,"Z":-0.0195},{"kind":"pt","X1":0.471,"X2":-0.9,"Z":-0.0223},{"kind":"pt","X1":0.341,"X2":-1,"Z":-0.0393},{"kind":"pt","X1":0.293,"X2":-1,"Z":-0.0463},
{"kind":"tv","X1":-1,"X2":-1,"Z":-0.0945},{"kind":"tv","X1":-0.75,"X2":-1,"Z":-0.0945},{"kind":"tv","X1":-0.5,"X2":-1,"Z":-0.0945},{"kind":"tv","X1":-0.25,"X2":-1,"Z":-0.0945},{"kind":"tv","X1":0,"X2":-1,"Z":-0.0945},{"kind":"tv","X1":0.25,"X2":-1,"Z":-0.0945},{"kind":"tv","X1":0.5,"X2":-1,"Z":-0.0945},{"kind":"tv","X1":0.75,"X2":-1,"Z":-0.0945},{"kind":"tv","X1":1,"X2":-1,"Z":-0.0945},{"kind":"tv","X1":1,"X2":-0.75,"Z":-0.0945},{"kind":"tv","X1":1,"X2":-0.5,"Z":-0.0945},{"kind":"tv","X1":1,"X2":-0.25,"Z":-0.0945},{"kind":"tv","X1":1,"X2":0,"Z":-0.0945},{"kind":"tv","X1":1,"X2":0.25,"Z":-0.0945},{"kind":"tv","X1":1,"X2":0.5,"Z":-0.0945},{"kind":"tv","X1":1,"X2":0.75,"Z":-0.0945},
{"kind":"th","X1":-1,"X2":-1,"Z":-0.075},{"kind":"th","X1":-1,"X2":-1,"Z":-0.05},{"kind":"th","X1":-1,"X2":-1,"Z":-0.025},{"kind":"th","X1":-1,"X2":-1,"Z":0},{"kind":"th","X1":-1,"X2":-1,"Z":0.025},{"kind":"th","X1":-1,"X2":-1,"Z":0.05},{"kind":"th","X1":-1,"X2":-1,"Z":0.075},
{"kind":"lx","X1":-1,"X2":-1,"Z":-0.0945,"label":"-1"},{"kind":"lx","X1":-0.5,"X2":-1,"Z":-0.0945,"label":"-0.5"},{"kind":"lx","X1":0,"X2":-1,"Z":-0.0945,"label":"0"},{"kind":"lx","X1":0.5,"X2":-1,"Z":-0.0945,"label":"0.5"},{"kind":"lx","X1":1,"X2":-1,"Z":-0.0945,"label":"1"},{"kind":"lx","X1":-0.16,"X2":-1,"Z":-0.1054,"label":"X1"},
{"kind":"lw","X1":1,"X2":-1,"Z":-0.0945,"label":"-1"},{"kind":"lw","X1":1,"X2":-0.5,"Z":-0.0945,"label":"-0.5"},{"kind":"lw","X1":1,"X2":0,"Z":-0.0945,"label":"0"},{"kind":"lw","X1":1,"X2":0.5,"Z":-0.0945,"label":"0.5"},{"kind":"lw","X1":1,"X2":0.22,"Z":-0.0987,"label":"X2"},
{"kind":"lz","X1":-1,"X2":-1,"Z":-0.05,"label":"-0.05"},{"kind":"lz","X1":-1,"X2":-1,"Z":0,"label":"0"},{"kind":"lz","X1":-1,"X2":-1,"Z":0.05,"label":"0.05"}
]},
"hconcat":[
{"title":{"text":["Cross-section Plane of Response Surface","(Cubic )","(Custom Cubic )","with Experimental Points"],"anchor":"middle","dx":-6,"offset":4.5},
"width":537,"height":454,
"data":{"name":"left"},
"transform":[{"calculate":"42+166.5*(datum.X1+1)+76*(datum.X2+1)","as":"sx"},{"calculate":"510+13.5*(datum.X1+1)-28.5*(datum.X2+1)-1610*(datum.Z+0.0966)","as":"sy"}],
"encoding":{"x":{"field":"sx","type":"quantitative","axis":null,"scale":{"domain":[0,537],"nice":false,"zero":false}},"y":{"field":"sy","type":"quantitative","axis":null,"scale":{"domain":[554,100],"nice":false,"zero":false}}},
"layer":[
{"transform":[{"filter":"datum.kind=='wall'"}],"mark":{"type":"line","fill":"#ffff80","stroke":"#ffff80","strokeWidth":0},"encoding":{"order":{"field":"s"},"detail":{"field":"line"}}},
{"transform":[{"filter":"datum.kind=='dot'"}],"mark":{"type":"line","stroke":"#8a8a8a","strokeWidth":1,"strokeDash":[1.5,1.5]},"encoding":{"order":{"field":"s"},"detail":{"field":"line"}}},
{"transform":[{"filter":"datum.kind=='thin'"}],"mark":{"type":"line","stroke":"black","strokeWidth":1.2},"encoding":{"order":{"field":"s"},"detail":{"field":"line"}}},
{"transform":[{"filter":"datum.kind=='thick'"}],"mark":{"type":"line","stroke":"black","strokeWidth":2.6},"encoding":{"order":{"field":"s"},"detail":{"field":"line"}}},
{"data":{"name":"leftSurface"},"transform":[{"calculate":"round((datum.X1+1)*7)","as":"i"},{"calculate":"round((datum.X2+1)*7)","as":"j"},{"calculate":"[0,1,2,3,4]","as":"c"},{"flatten":["c"]},{"calculate":"datum.i-((datum.c==1||datum.c==2)?1:0)","as":"ci"},{"calculate":"datum.j-((datum.c==2||datum.c==3)?1:0)","as":"cj"},{"filter":"datum.ci>=0&&datum.cj>=0&&datum.ci<14&&datum.cj<14"},{"calculate":"(13-datum.cj)*100+datum.ci","as":"cell"},{"joinaggregate":[{"op":"mean","field":"Z","as":"meanZ"}],"groupby":["cell"]},{"calculate":"42+166.5*(datum.X1+1)+76*(datum.X2+1)","as":"sx"},{"calculate":"510+13.5*(datum.X1+1)-28.5*(datum.X2+1)-1610*(datum.Z+0.0966)","as":"sy"}],
"mark":{"type":"line","stroke":"black","strokeWidth":1.3,"strokeJoin":"round"},
"encoding":{"order":{"field":"c"},"detail":{"field":"cell"},"fill":{"field":"meanZ","type":"quantitative","legend":null,"scale":{"domain":[-0.09,0.085],"range":["#f8f8ff","#000080"],"clamp":true}}}},
{"transform":[{"filter":"datum.kind=='pt'"}],"mark":{"type":"point","shape":"square","filled":true,"fill":"black","stroke":null,"size":80,"opacity":1,"xOffset":0.5,"yOffset":0.5}},
{"transform":[{"filter":"datum.kind=='pt'"}],"mark":{"type":"point","shape":"square","filled":true,"fill":"#008000","stroke":null,"size":40,"opacity":1}},
{"transform":[{"filter":"datum.kind=='tv'"}],"mark":{"type":"tick","orient":"vertical","size":6,"color":"black","thickness":1}},
{"transform":[{"filter":"datum.kind=='th'"}],"mark":{"type":"tick","orient":"horizontal","size":6,"color":"black","thickness":1}},
{"transform":[{"filter":"datum.kind=='lx'"}],"mark":{"type":"text","dx":1,"dy":13,"fontSize":12.5,"color":"#222222","align":"center"},"encoding":{"text":{"field":"label"}}},
{"transform":[{"filter":"datum.kind=='lw'"}],"mark":{"type":"text","dx":8,"dy":8,"fontSize":12.5,"color":"#222222","align":"left"},"encoding":{"text":{"field":"label"}}},
{"transform":[{"filter":"datum.kind=='lz'"}],"mark":{"type":"text","dx":-7,"fontSize":12.5,"color":"#222222","align":"right"},"encoding":{"text":{"field":"label"}}}
]},
{"title":{"text":["Cross-section Plane of Response Surface","(By User Formula)","with Experimental Points"],"anchor":"middle","dx":2,"offset":35.5},
"width":538,"height":454,
"data":{"name":"right"},
"transform":[{"calculate":"591+165.5*(datum.X1+1)+75.5*(datum.X2+1)","as":"sx"},{"calculate":"500+13.5*(datum.X1+1)-28*(datum.X2+1)-1650*(datum.Z+0.0945)","as":"sy"}],
"encoding":{"x":{"field":"sx","type":"quantitative","axis":null,"scale":{"domain":[537,1075],"nice":false,"zero":false}},"y":{"field":"sy","type":"quantitative","axis":null,"scale":{"domain":[554,100],"nice":false,"zero":false}}},
"layer":[
{"transform":[{"filter":"datum.kind=='wall'"}],"mark":{"type":"line","fill":"#ffff80","stroke":"#ffff80","strokeWidth":0},"encoding":{"order":{"field":"s"},"detail":{"field":"line"}}},
{"transform":[{"filter":"datum.kind=='dot'"}],"mark":{"type":"line","stroke":"#8a8a8a","strokeWidth":1,"strokeDash":[1.5,1.5]},"encoding":{"order":{"field":"s"},"detail":{"field":"line"}}},
{"transform":[{"filter":"datum.kind=='thin'"}],"mark":{"type":"line","stroke":"black","strokeWidth":1.2},"encoding":{"order":{"field":"s"},"detail":{"field":"line"}}},
{"transform":[{"filter":"datum.kind=='thick'"}],"mark":{"type":"line","stroke":"black","strokeWidth":2.6},"encoding":{"order":{"field":"s"},"detail":{"field":"line"}}},
{"transform":[{"filter":"datum.kind=='pt'"}],"mark":{"type":"point","shape":"square","filled":true,"fill":"black","stroke":null,"size":80,"opacity":1,"xOffset":0.5,"yOffset":0.5}},
{"transform":[{"filter":"datum.kind=='pt'"}],"mark":{"type":"point","shape":"square","filled":true,"fill":"#008000","stroke":null,"size":40,"opacity":1}},
{"data":{"name":"rightSurface"},"transform":[{"calculate":"round((datum.X1+1)*7)","as":"i"},{"calculate":"round((datum.X2+1)*7)","as":"j"},{"calculate":"[0,1,2,3,4]","as":"c"},{"flatten":["c"]},{"calculate":"datum.i-((datum.c==1||datum.c==2)?1:0)","as":"ci"},{"calculate":"datum.j-((datum.c==2||datum.c==3)?1:0)","as":"cj"},{"filter":"datum.ci>=0&&datum.cj>=0&&datum.ci<14&&datum.cj<14"},{"calculate":"(13-datum.cj)*100+datum.ci","as":"cell"},{"calculate":"591+165.5*(datum.X1+1)+75.5*(datum.X2+1)","as":"sx"},{"calculate":"500+13.5*(datum.X1+1)-28*(datum.X2+1)-1650*(datum.Z+0.0945)","as":"sy"}],
"mark":{"type":"line","stroke":"black","fill":"#c3dcc3","strokeWidth":1.3,"strokeJoin":"round"},
"encoding":{"order":{"field":"c"},"detail":{"field":"cell"}}},
{"transform":[{"filter":"datum.kind=='tv'"}],"mark":{"type":"tick","orient":"vertical","size":6,"color":"black","thickness":1}},
{"transform":[{"filter":"datum.kind=='th'"}],"mark":{"type":"tick","orient":"horizontal","size":6,"color":"black","thickness":1}},
{"transform":[{"filter":"datum.kind=='lx'"}],"mark":{"type":"text","dx":1,"dy":14,"fontSize":12.5,"color":"#222222","align":"center"},"encoding":{"text":{"field":"label"}}},
{"transform":[{"filter":"datum.kind=='lw'"}],"mark":{"type":"text","dx":9,"dy":8,"fontSize":12.5,"color":"#222222","align":"left"},"encoding":{"text":{"field":"label"}}},
{"transform":[{"filter":"datum.kind=='lz'"}],"mark":{"type":"text","dx":-7,"fontSize":12.5,"color":"#222222","align":"right"},"encoding":{"text":{"field":"label"}}}
]}
]}
